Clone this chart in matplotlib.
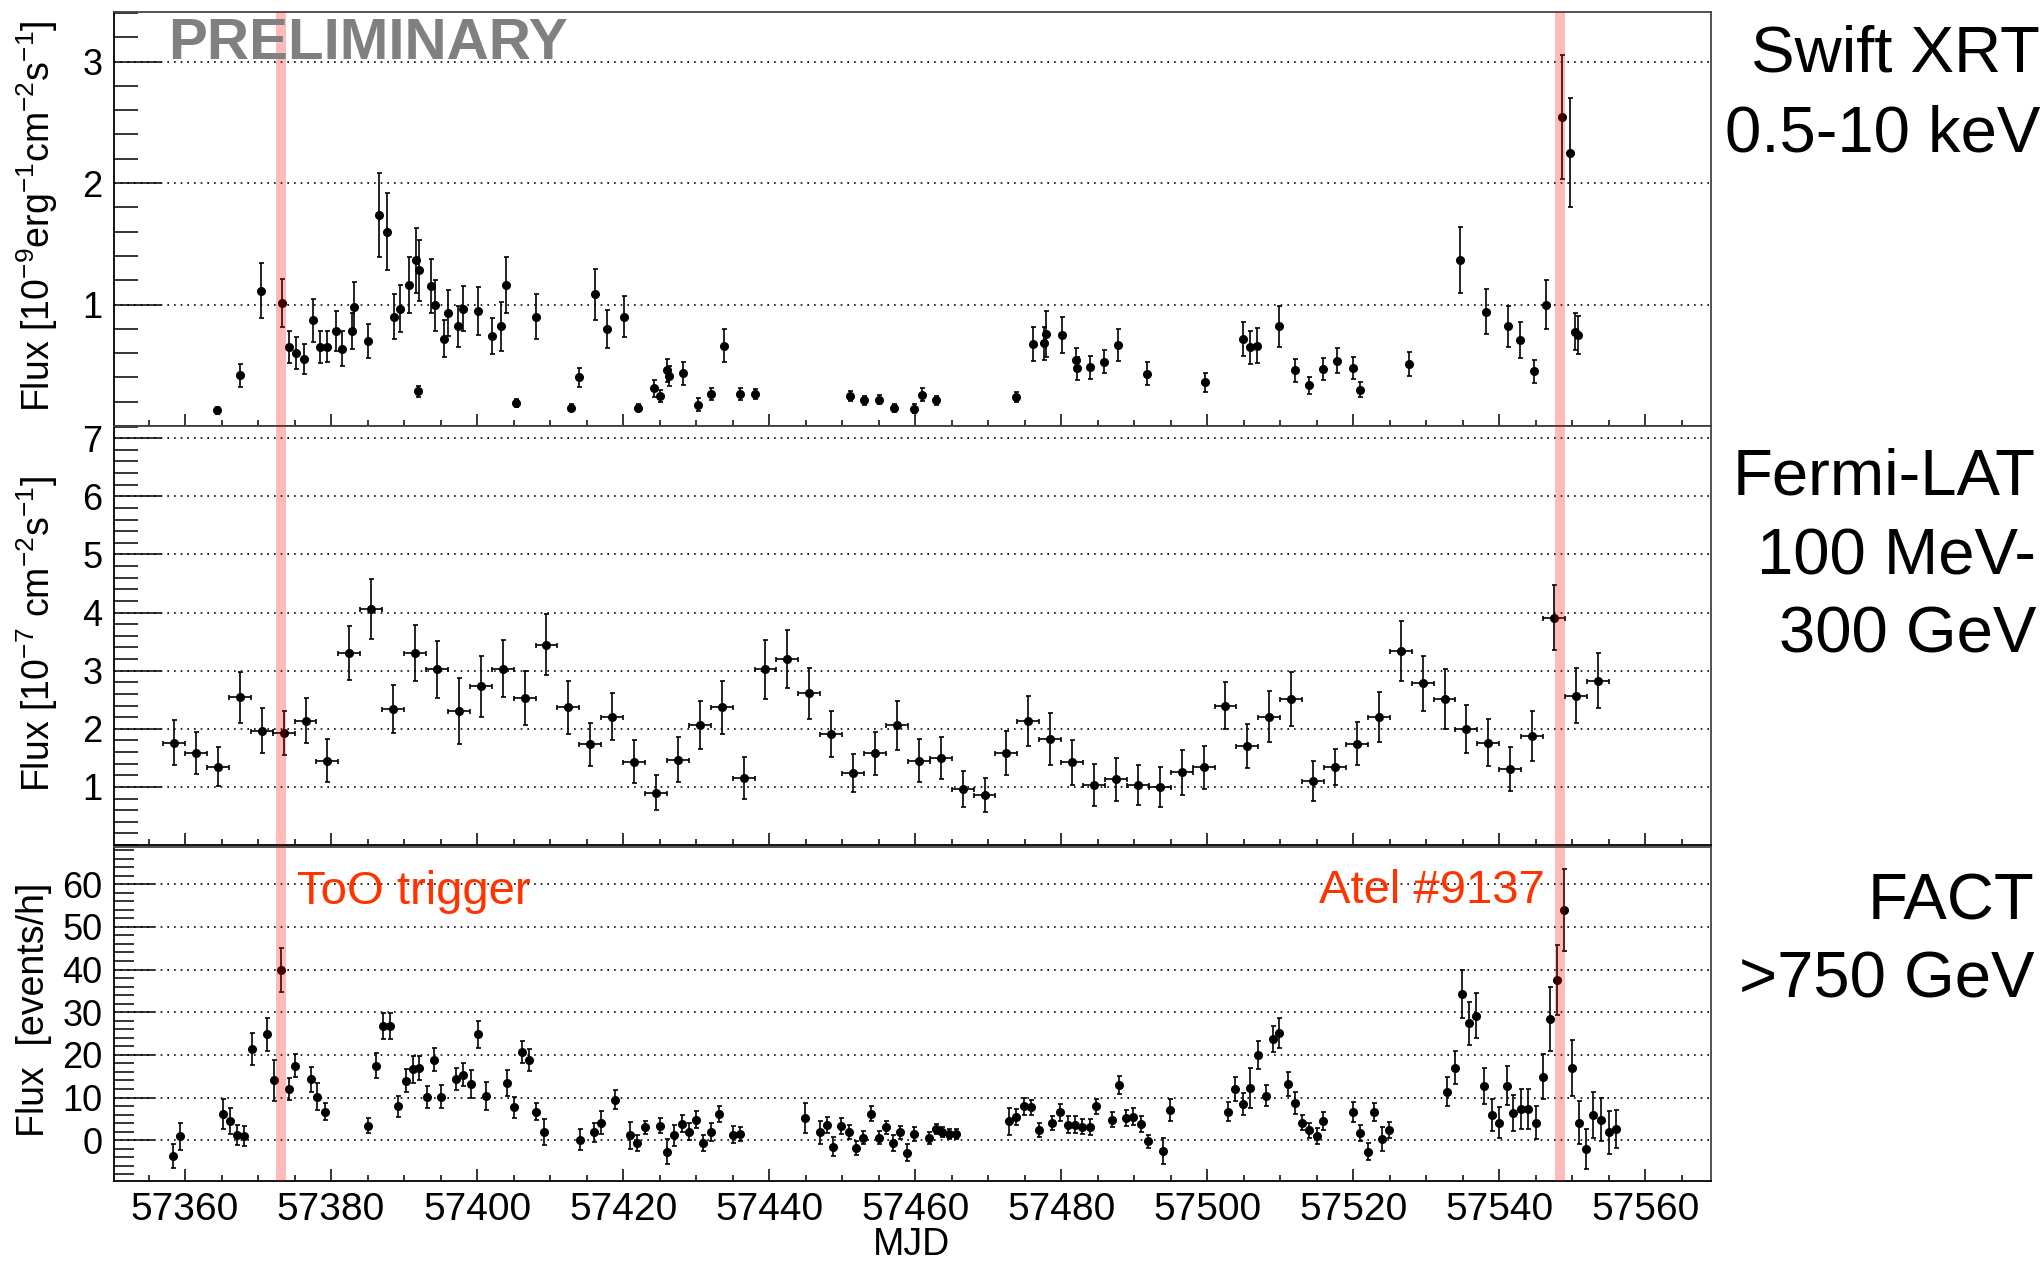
import numpy as np
import matplotlib
matplotlib.use("Agg")
import matplotlib.pyplot as plt
from matplotlib.ticker import MultipleLocator, FixedLocator

plt.rcParams["font.family"] = ["Liberation Sans", "DejaVu Sans"]
plt.rcParams["mathtext.fontset"] = "custom"
plt.rcParams["mathtext.rm"] = "Liberation Sans"
plt.rcParams["mathtext.default"] = "regular"

# ---- Swift XRT 0.5-10 keV (1e-9 erg cm-2 s-1)
xrt_mjd = [57364.4, 57367.5, 57370.4, 57373.3, 57374.2, 57375.2, 57376.3, 57377.5, 57378.5, 57379.4,
           57380.7, 57381.5, 57382.9, 57383.1, 57385.0, 57386.5, 57387.7, 57388.6, 57389.5, 57390.7,
           57391.6, 57391.9, 57392.0, 57393.7, 57394.3, 57395.5, 57396.0, 57397.4, 57398.1, 57400.1,
           57402.1, 57403.3, 57403.9, 57405.3, 57408.0, 57412.8, 57414.0, 57416.2, 57417.8, 57420.1,
           57422.0, 57424.2, 57425.1, 57426.0, 57426.3, 57428.2, 57430.2, 57432.1, 57433.8, 57436.0,
           57438.1, 57451.1, 57453.0, 57455.1, 57457.1, 57459.8, 57460.9, 57462.9, 57473.8, 57476.1,
           57477.9, 57477.7, 57480.1, 57482.0, 57482.2, 57484.0, 57485.8, 57487.8, 57491.8, 57499.7,
           57504.9, 57505.9, 57506.8, 57509.9, 57512.0, 57513.9, 57515.8, 57517.8, 57519.9, 57520.9,
           57527.6, 57534.6, 57538.2, 57541.2, 57542.9, 57544.7, 57546.4, 57548.6, 57549.7, 57550.4,
           57550.8]
xrt_flux = [0.13, 0.416, 1.115, 1.01, 0.653, 0.60, 0.553, 0.87, 0.653, 0.653,
            0.785, 0.635, 0.78, 0.98, 0.70, 1.737, 1.60, 0.90, 0.967, 1.158,
            1.363, 0.285, 1.28, 1.153, 0.995, 0.72, 0.93, 0.82, 0.967, 0.945,
            0.74, 0.82, 1.158, 0.19, 0.90, 0.15, 0.40, 1.085, 0.795, 0.90,
            0.15, 0.31, 0.245, 0.46, 0.41, 0.435, 0.176, 0.266, 0.66, 0.263,
            0.266, 0.245, 0.21, 0.217, 0.15, 0.143, 0.258, 0.21, 0.24, 0.675,
            0.755, 0.68, 0.75, 0.544, 0.476, 0.484, 0.53, 0.667, 0.43, 0.36,
            0.716, 0.648, 0.66, 0.82, 0.457, 0.334, 0.47, 0.536, 0.476, 0.30,
            0.51, 1.368, 0.94, 0.82, 0.71, 0.45, 1.0, 2.54, 2.25, 0.776,
            0.75]
xrt_err = [0.03, 0.093, 0.225, 0.198, 0.132, 0.13, 0.123, 0.177, 0.132, 0.13,
           0.164, 0.143, 0.15, 0.205, 0.143, 0.348, 0.32, 0.184, 0.19, 0.232,
           0.27, 0.048, 0.25, 0.225, 0.21, 0.15, 0.19, 0.17, 0.185, 0.2,
           0.15, 0.2, 0.23, 0.03, 0.184, 0.03, 0.075, 0.21, 0.157, 0.17,
           0.03, 0.068, 0.048, 0.095, 0.082, 0.095, 0.055, 0.048, 0.136, 0.048,
           0.04, 0.04, 0.04, 0.04, 0.035, 0.035, 0.055, 0.04, 0.04, 0.143,
           0.19, 0.136, 0.15, 0.095, 0.095, 0.095, 0.095, 0.13, 0.093, 0.08,
           0.143, 0.136, 0.143, 0.17, 0.095, 0.068, 0.09, 0.102, 0.09, 0.061,
           0.102, 0.273, 0.184, 0.17, 0.15, 0.095, 0.2, 0.51, 0.45, 0.15,
           0.157]

# ---- Fermi-LAT 100 MeV - 300 GeV (1e-7 cm-2 s-1), 3-day bins
lat_mjd = [57358.5, 57361.5, 57364.5, 57367.5, 57370.5, 57373.5, 57376.5, 57379.5, 57382.5, 57385.5,
           57388.5, 57391.5, 57394.5, 57397.5, 57400.5, 57403.5, 57406.5, 57409.5, 57412.5, 57415.5,
           57418.5, 57421.5, 57424.5, 57427.5, 57430.5, 57433.5, 57436.5, 57439.5, 57442.5, 57445.5,
           57448.5, 57451.5, 57454.5, 57457.5, 57460.5, 57463.5, 57466.5, 57469.5, 57472.5, 57475.5,
           57478.5, 57481.5, 57484.5, 57487.5, 57490.5, 57493.5, 57496.5, 57499.5, 57502.5, 57505.5,
           57508.5, 57511.5, 57514.5, 57517.5, 57520.5, 57523.5, 57526.5, 57529.5, 57532.5, 57535.5,
           57538.5, 57541.5, 57544.5, 57547.5, 57550.5, 57553.5]
lat_flux = [1.76, 1.59, 1.35, 2.54, 1.97, 1.93, 2.14, 1.45, 3.30, 4.06,
            2.34, 3.30, 3.02, 2.30, 2.73, 3.03, 2.53, 3.45, 2.37, 1.73,
            2.21, 1.43, 0.90, 1.47, 2.07, 2.37, 1.15, 3.02, 3.20, 2.61,
            1.91, 1.24, 1.58, 2.06, 1.45, 1.49, 0.97, 0.86, 1.59, 2.14,
            1.83, 1.42, 1.03, 1.13, 1.03, 1.00, 1.25, 1.34, 2.40, 1.71,
            2.21, 2.51, 1.10, 1.34, 1.74, 2.20, 3.34, 2.78, 2.51, 2.00,
            1.76, 1.31, 1.87, 3.91, 2.57, 2.83]
lat_err = [0.39, 0.36, 0.33, 0.44, 0.39, 0.38, 0.39, 0.37, 0.46, 0.51,
           0.41, 0.48, 0.49, 0.57, 0.53, 0.49, 0.47, 0.52, 0.46, 0.37,
           0.40, 0.37, 0.30, 0.38, 0.41, 0.46, 0.36, 0.51, 0.50, 0.44,
           0.40, 0.33, 0.37, 0.42, 0.37, 0.36, 0.31, 0.29, 0.38, 0.43,
           0.45, 0.39, 0.36, 0.37, 0.34, 0.35, 0.39, 0.37, 0.41, 0.38,
           0.44, 0.46, 0.35, 0.31, 0.37, 0.43, 0.52, 0.47, 0.51, 0.41,
           0.40, 0.38, 0.43, 0.56, 0.47, 0.47]
lat_bin = 1.5

# ---- FACT >750 GeV (events/h), nightly
fact_mjd = [57358.3, 57359.3, 57365.2, 57366.2, 57367.1, 57368.1, 57369.2, 57371.2, 57372.2, 57373.2,
            57374.2, 57375.1, 57377.2, 57378.1, 57379.2, 57385.0, 57386.1, 57387.1, 57388.1, 57389.1,
            57390.2, 57391.2, 57392.1, 57393.1, 57394.1, 57395.1, 57397.1, 57398.1, 57399.1, 57400.1,
            57401.2, 57404.1, 57405.1, 57406.1, 57407.1, 57408.0, 57409.1, 57414.1, 57416.0, 57417.0,
            57418.9, 57420.9, 57421.9, 57423.0, 57425.0, 57426.0, 57426.9, 57428.0, 57429.0, 57430.0,
            57431.0, 57432.0, 57433.1, 57435.0, 57436.0, 57444.9, 57446.9, 57447.9, 57448.8, 57449.9,
            57450.9, 57451.9, 57452.9, 57453.9, 57455.0, 57456.0, 57456.9, 57457.9, 57458.9, 57459.9,
            57461.9, 57462.9, 57463.7, 57464.6, 57465.6, 57472.8, 57473.8, 57474.9, 57475.9, 57476.9,
            57478.8, 57479.9, 57480.9, 57481.9, 57482.9, 57483.9, 57484.8, 57486.9, 57487.9, 57488.9,
            57489.9, 57490.9, 57491.9, 57493.9, 57494.9, 57502.9, 57503.8, 57504.9, 57505.9, 57506.9,
            57508.0, 57509.0, 57509.9, 57511.0, 57512.0, 57513.0, 57514.0, 57515.0, 57515.9, 57519.9,
            57520.9, 57522.0, 57522.8, 57523.9, 57524.9, 57532.9, 57533.9, 57534.9, 57535.9, 57536.8,
            57537.9, 57539.0, 57540.0, 57541.0, 57541.9, 57543.0, 57544.0, 57545.0, 57546.0, 57547.0,
            57547.9, 57548.9, 57549.9, 57550.9, 57551.9, 57552.9, 57554.0, 57555.0, 57556.0]
fact_rate = [-3.7, 0.9, 6.1, 4.5, 1.25, 1.0, 21.3, 24.8, 14.1, 39.9,
             12.0, 17.5, 14.3, 10.2, 6.7, 3.4, 17.5, 26.8, 26.8, 7.9,
             13.9, 16.6, 17.0, 10.2, 18.8, 10.2, 14.3, 15.3, 13.1, 24.8,
             10.4, 13.4, 7.7, 20.6, 18.8, 6.7, 1.9, 0.1, 1.8, 4.1,
             9.5, 1.1, -0.7, 3.0, 3.4, -2.7, 1.1, 3.8, 2.0, 4.8,
             -0.7, 2.0, 6.2, 1.25, 1.5, 5.2, 1.8, 3.6, -1.5, 3.4,
             1.9, -1.9, 0.6, 6.2, 0.6, 3.0, -0.7, 1.8, -2.9, 1.4,
             0.6, 2.6, 2.0, 1.5, 1.5, 4.4, 5.4, 7.9, 7.7, 2.4,
             4.1, 6.5, 3.6, 3.6, 3.2, 3.0, 7.9, 4.8, 13.0, 5.2,
             5.5, 3.8, -0.3, -2.5, 7.1, 6.7, 12.0, 8.5, 12.2, 20.0,
             10.4, 23.7, 25.1, 13.1, 8.8, 4.1, 2.3, 1.0, 4.6, 6.6,
             1.6, -2.7, 6.6, 0.3, 2.4, 11.4, 17.0, 34.3, 27.4, 29.2,
             12.7, 5.9, 4.1, 12.8, 6.3, 7.3, 7.3, 4.1, 14.9, 28.4,
             37.6, 54.0, 16.9, 4.1, -2.1, 5.9, 4.8, 1.8, 2.6]
fact_err = [2.9, 3.1, 3.5, 3.1, 2.3, 2.3, 3.75, 3.9, 4.8, 5.1,
            2.6, 2.7, 2.9, 3.1, 2.0, 1.8, 2.9, 3.0, 3.0, 2.5,
            2.7, 3.1, 2.8, 2.6, 2.7, 2.7, 2.6, 2.7, 3.3, 3.2,
            3.3, 3.1, 2.5, 2.6, 2.6, 2.0, 3.1, 2.5, 2.3, 2.7,
            2.3, 3.1, 1.8, 1.45, 1.8, 2.9, 2.5, 2.0, 2.0, 2.0,
            1.8, 2.1, 1.9, 2.0, 1.6, 3.5, 2.8, 1.9, 2.2, 1.9,
            1.6, 1.6, 1.5, 1.8, 1.6, 1.6, 1.8, 1.6, 2.0, 1.7,
            1.4, 1.25, 1.2, 1.2, 1.2, 3.2, 1.9, 2.0, 1.7, 1.7,
            1.6, 2.0, 2.0, 2.0, 1.8, 1.9, 1.8, 1.7, 2.1, 1.8,
            1.95, 1.9, 1.6, 3.0, 2.5, 2.25, 2.7, 2.6, 4.7, 3.2,
            2.5, 3.0, 3.5, 2.8, 2.6, 1.8, 1.7, 1.8, 2.1, 2.3,
            1.9, 1.95, 2.1, 2.9, 1.95, 3.3, 3.9, 5.6, 5.0, 5.3,
            4.2, 3.7, 3.7, 4.5, 4.2, 4.7, 4.7, 3.9, 5.2, 7.4,
            8.2, 9.6, 6.5, 5.0, 4.7, 5.4, 5.1, 5.0, 4.5]

# highlighted nights (ToO trigger, ATel)
band_lo = [57372.4, 57547.6]
band_hi = [57373.8, 57549.05]

W, H = 2044, 1262
fig = plt.figure(figsize=(W / 100, H / 100), dpi=100)


def px(x, y):
    return x / W, 1 - y / H


left, right = 113.5, 1711.0
panels = [(11.7, 426.0), (426.0, 845.0), (846.7, 1180.7)]
axes = []
for top, bot in panels:
    ax = fig.add_axes([left / W, 1 - bot / H, (right - left) / W, (bot - top) / H])
    axes.append(ax)

ax1, ax2, ax3 = axes
ebar = dict(fmt="o", ms=5.5, color="black", ecolor="black", elinewidth=1.2, capsize=1.8, capthick=1.2, zorder=3)

ax1.errorbar(xrt_mjd, xrt_flux, yerr=xrt_err, **ebar)
ax2.errorbar(lat_mjd, lat_flux, yerr=lat_err, xerr=lat_bin, **ebar)
ax3.errorbar(fact_mjd, fact_rate, yerr=fact_err, **ebar)

ax1.set_ylim(0.0, 3.41)
ax1.yaxis.set_major_locator(FixedLocator([1, 2, 3]))
ax1.yaxis.set_minor_locator(MultipleLocator(0.2))
ax2.set_ylim(0.0, 7.21)
ax2.yaxis.set_major_locator(FixedLocator([1, 2, 3, 4, 5, 6, 7]))
ax2.yaxis.set_minor_locator(MultipleLocator(0.2))
ax3.set_ylim(-9.5, 68.8)
ax3.yaxis.set_major_locator(FixedLocator([0, 10, 20, 30, 40, 50, 60]))
ax3.yaxis.set_minor_locator(MultipleLocator(2))

for i, ax in enumerate(axes):
    ax.set_xlim(57350.2, 57569.0)
    ax.xaxis.set_major_locator(MultipleLocator(20))
    ax.xaxis.set_minor_locator(MultipleLocator(5))
    ax.set_axisbelow(True)
    ax.yaxis.grid(True, which="major", color="black", linestyle=(0, (1, 3)), linewidth=1.2)
    ylen = 29 if i == 2 else 34
    ax.tick_params(axis="y", which="major", direction="in", length=ylen, width=1.1, labelsize=26, pad=8)
    ax.tick_params(axis="y", which="minor", direction="in", length=ylen / 2, width=1.1)
    ax.tick_params(axis="x", which="major", direction="in", length=8.5, width=1.1, labelsize=28, pad=8)
    ax.tick_params(axis="x", which="minor", direction="in", length=4.2, width=1.1)
    if i < 2:
        ax.tick_params(axis="x", labelbottom=False)
    for s in ["left", "bottom"]:
        ax.spines[s].set_linewidth(1.3)
        ax.spines[s].set_color("black")
    for s in ["top", "right"]:
        ax.spines[s].set_linewidth(1.3)
        ax.spines[s].set_color("#444444")
    for lo, hi in zip(band_lo, band_hi):
        ax.axvspan(lo, hi, color="red", alpha=0.27, lw=0, zorder=5)

# y axis titles
ylab = dict(rotation=90, ha="center", va="baseline", rotation_mode="anchor", fontsize=27)
fig.text(*px(50, 216), r"Flux [10$^{-9}$erg$^{-1}$cm$^{-2}$s$^{-1}$]", **ylab)
fig.text(*px(50, 634), r"Flux [10$^{-7}$ cm$^{-2}$s$^{-1}$]", **ylab)
fig.text(*px(44, 1010), "Flux  [events/h]", **ylab)
fig.text(*px(912, 1255), "MJD", ha="center", va="baseline", fontsize=27)

# instrument labels
inst = dict(ha="right", va="baseline", fontsize=47)
fig.text(*px(2040, 72), "Swift XRT", **inst)
fig.text(*px(2040, 152), "0.5-10 keV", **inst)
fig.text(*px(2036, 495), "Fermi-LAT", **inst)
fig.text(*px(2036, 575), "100 MeV-", **inst)
fig.text(*px(2036, 653), "300 GeV", **inst)
fig.text(*px(2034, 919), "FACT", **inst)
fig.text(*px(2034, 998), ">750 GeV", **inst)

fig.text(*px(168, 59), "PRELIMINARY", ha="left", va="baseline", fontsize=42, fontweight="bold", color="#808080")
fig.text(*px(297, 904), "ToO trigger", ha="left", va="baseline", fontsize=34, color="#ff3300")
fig.text(*px(1545, 903), "Atel #9137", ha="right", va="baseline", fontsize=34, color="#ff3300")

fig.savefig("out.png", dpi=100)
